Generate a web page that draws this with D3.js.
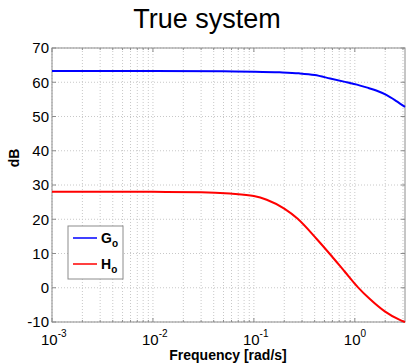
<!DOCTYPE html>
<html>
<head>
<meta charset="utf-8">
<script src="https://cdn.jsdelivr.net/npm/d3@7"></script>
<style>
  body { margin: 0; background: #fff; }
  text { font-family: "Liberation Sans", Arial, sans-serif; }
</style>
</head>
<body>
<div id="graf"></div>
<script>
// frequencies (rad/s) and magnitudes (dB)
const freqG = [0.001, 0.01, 0.05, 0.1, 0.18, 0.28, 0.4, 0.57, 0.83, 1.05, 1.3, 1.63, 2.05, 2.58, 3.1416]
const magG = [63.3, 63.3, 63.2, 63.1, 62.9, 62.6, 62.1, 61.1, 60.0, 59.3, 58.5, 57.6, 56.3, 54.5, 52.8]

const freqH = [0.001, 0.01, 0.03, 0.058, 0.1, 0.134, 0.2, 0.27, 0.417, 0.56, 0.8, 1.07, 1.41, 1.98, 2.79, 3.1416]
const magH = [28.0, 28.0, 27.9, 27.5, 26.8, 25.7, 23.1, 20.2, 14.3, 10.0, 4.6, 0.2, -3.3, -6.9, -9.4, -10.0]

const yTicks = [-10, 0, 10, 20, 30, 40, 50, 60, 70]
const xMajor = [0.001, 0.01, 0.1, 1]
const xExp = ["-3", "-2", "-1", "0"]

const series = [
  { name: "G", sub: "o", color: "#0000ff", f: freqG, m: magG },
  { name: "H", sub: "o", color: "#ff0000", f: freqH, m: magH },
]

const anchoTotal = 406
const altoTotal = 364
const margins = { top: 48, right: 1, bottom: 42, left: 52 }
const ancho = anchoTotal - margins.left - margins.right
const alto = altoTotal - margins.top - margins.bottom

const svg = d3.select("#graf").append("svg")
  .attr("width", anchoTotal)
  .attr("height", altoTotal)

const g = svg.append("g")
  .attr("transform", `translate(${margins.left}, ${margins.top})`)

const x = d3.scaleLog().domain([0.001, Math.PI]).range([0, ancho])
const y = d3.scaleLinear().domain([-10, 70]).range([alto, 0])

// minor + major log grid
const xGrid = []
for (let e = -3; e <= 0; e++) {
  for (let k = 1; k <= 9; k++) {
    const v = k * Math.pow(10, e)
    if (v <= Math.PI) xGrid.push(v)
  }
}

g.selectAll(".vgrid").data(xGrid).enter().append("line")
  .attr("x1", d => x(d)).attr("x2", d => x(d))
  .attr("y1", 0).attr("y2", alto)
  .attr("stroke", "#c8c8c8")
  .attr("stroke-dasharray", "1,2")

g.selectAll(".hgrid").data(yTicks).enter().append("line")
  .attr("x1", 0).attr("x2", ancho)
  .attr("y1", d => y(d)).attr("y2", d => y(d))
  .attr("stroke", "#c8c8c8")
  .attr("stroke-dasharray", "1,2")

// box
g.append("rect")
  .attr("width", ancho).attr("height", alto)
  .attr("fill", "none").attr("stroke", "#8c8c8c")

// inward ticks
g.selectAll(".xt").data(xGrid).enter().append("path")
  .attr("d", d => {
    const len = xMajor.includes(d) ? 4 : 2
    return `M${x(d)},${alto}v${-len}M${x(d)},0v${len}`
  })
  .attr("stroke", "#8c8c8c")

g.selectAll(".yt").data(yTicks).enter().append("path")
  .attr("d", d => `M0,${y(d)}h4M${ancho},${y(d)}h-4`)
  .attr("stroke", "#8c8c8c")

// y tick labels
g.selectAll(".yl").data(yTicks).enter().append("text")
  .attr("x", -3).attr("y", d => y(d))
  .attr("dy", "0.36em")
  .attr("text-anchor", "end")
  .attr("font-size", 15)
  .text(d => d)

// x tick labels 10^n
const xl = g.selectAll(".xl").data(xMajor).enter().append("text")
  .attr("x", d => x(d) - 11)
  .attr("y", alto + 23)
  .attr("font-size", 15)
xl.append("tspan").text("10")
xl.append("tspan")
  .attr("dy", -8)
  .attr("font-size", 10)
  .text((d, i) => xExp[i])

// curves
const line = d3.line()
  .x(d => x(d[0]))
  .y(d => y(d[1]))
  .curve(d3.curveMonotoneX)

series.forEach(s => {
  g.append("path")
    .datum(s.f.map((f, i) => [f, s.m[i]]))
    .attr("d", line)
    .attr("fill", "none")
    .attr("stroke", s.color)
    .attr("stroke-width", 2)
})

// legend
const leg = g.append("g").attr("transform", `translate(${68 - margins.left}, ${226 - margins.top})`)
leg.append("rect")
  .attr("width", 55).attr("height", 53)
  .attr("fill", "#fff").attr("stroke", "#8c8c8c")
series.forEach((s, i) => {
  const yy = 12 + i * 26
  leg.append("line")
    .attr("x1", 5).attr("x2", 29)
    .attr("y1", yy).attr("y2", yy)
    .attr("stroke", s.color).attr("stroke-width", 1.5)
  const t = leg.append("text")
    .attr("x", 33).attr("y", yy + 5)
    .attr("font-size", 14).attr("font-weight", "bold")
  t.append("tspan").text(s.name)
  t.append("tspan").attr("dy", 4).attr("font-size", 10).text(s.sub)
})

// labels
svg.append("text")
  .attr("x", 207).attr("y", 28)
  .attr("text-anchor", "middle")
  .attr("font-size", 27)
  .text("True system")

svg.append("text")
  .attr("x", 228).attr("y", 360)
  .attr("text-anchor", "middle")
  .attr("font-size", 14).attr("font-weight", "bold")
  .text("Frequency [rad/s]")

svg.append("text")
  .attr("transform", "translate(19, 158) rotate(-90)")
  .attr("text-anchor", "middle")
  .attr("font-size", 14).attr("font-weight", "bold")
  .text("dB")
</script>
</body>
</html>
